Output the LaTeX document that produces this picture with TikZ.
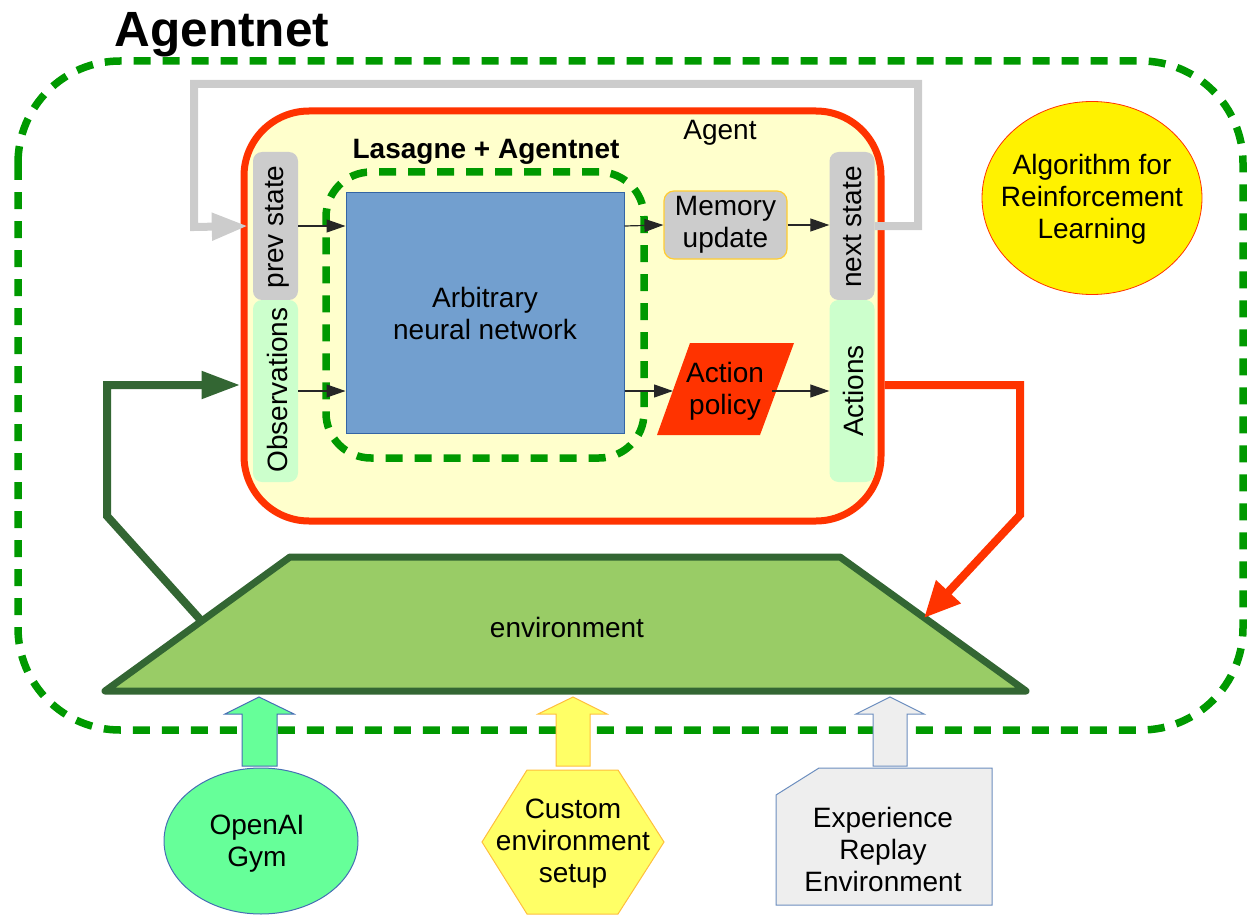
\documentclass[tikz,border=0pt]{standalone}
\usepackage{fontspec}
\setmainfont{Liberation Sans}
\usetikzlibrary{arrows.meta,shapes.geometric}
\definecolor{dgreen}{RGB}{0,153,0}
\definecolor{redo}{RGB}{255,51,0}
\definecolor{agentF}{RGB}{255,255,204}
\definecolor{lgray}{RGB}{204,204,204}
\definecolor{lgreen}{RGB}{204,255,204}
\definecolor{blueF}{RGB}{114,159,207}
\definecolor{blueB}{RGB}{52,101,164}
\definecolor{memB}{RGB}{255,204,51}
\definecolor{envF}{RGB}{153,204,102}
\definecolor{envB}{RGB}{51,102,51}
\definecolor{gymF}{RGB}{102,255,153}
\definecolor{gymB}{RGB}{70,110,180}
\definecolor{hexF}{RGB}{255,255,102}
\definecolor{hexB}{RGB}{255,190,60}
\definecolor{expF}{RGB}{238,238,238}
\definecolor{expB}{RGB}{108,142,191}
\begin{document}
\begin{tikzpicture}[x=1pt,y=-1pt,
  every node/.style={font=\fontsize{28}{32}\selectfont, inner sep=0pt, align=center},
  gdash/.style={draw=dgreen, line width=7.5pt, dash pattern=on 17pt off 12pt},
  strip/.style={minimum width=45pt, rounded corners=9pt},
  arr/.style={-{Triangle[length=19pt,width=13pt]}, line width=1.2pt, draw=black!85},
  boldlbl/.style={font=\bfseries\fontsize{28}{32}\selectfont},
  blockarrow/.style={line width=1pt}]
\useasboundingbox (0,0) rectangle (1248,915);

% outer Agentnet frame
\draw[gdash, rounded corners=102pt] (18,61) rectangle (1243,730);
\node[font=\bfseries\fontsize{49.5}{56}\selectfont, anchor=base] (title) at (222,47) {Agentnet};

% agent box
\node[draw=redo, fill=agentF, line width=7pt, rounded corners=65pt,
      minimum width=637pt, minimum height=410pt] (agent) at (562.5,316) {};
\node[anchor=base] (agentlbl) at (720,140) {Agent};

% lasagne frame
\node[gdash, rounded corners=45pt, minimum width=318pt, minimum height=286pt] (lasagne) at (485,315) {};
\node[boldlbl, anchor=base] (laslbl) at (486,159) {Lasagne + Agentnet};

% strips
\node[strip, fill=lgray, minimum height=148pt] (prev) at (275.5,226) {};
\node[strip, fill=lgreen, minimum height=182pt] (obs) at (275.5,391) {};
\node[strip, fill=lgray, minimum height=148pt] (next) at (852,226) {};
\node[strip, fill=lgreen, minimum height=182pt] (acts) at (852,391) {};
\node[rotate=90] (prevtxt) at (277,227) {prev state};
\node[rotate=90] (obstxt) at (277,390) {Observations};
\node[rotate=90] (nexttxt) at (853,227) {next state};
\node[rotate=90] (actstxt) at (853,391) {Actions};

% neural network
\node[draw=blueB, fill=blueF, line width=1pt, minimum width=278pt, minimum height=241pt] (nn) at (485,312.5) {};
\node (nntxt) at (485,313) {Arbitrary\\neural network};

% memory update
\node[draw=memB, fill=lgray, line width=1.2pt, rounded corners=10pt,
      minimum width=123pt, minimum height=68pt] (mem) at (725.5,225) {Memory\\update};

% action policy
\path[fill=redo] (657,435) -- (690,343) -- (794,343) -- (760,435) -- cycle;
\node (policy) at (725,391) {Action\\policy};
\coordinate (polin) at (673,391);
\coordinate (polout) at (772,391);

% thin arrows
\draw[arr] (prev.east) -- (nn.west |- prev.east);
\draw[arr] (obs.east) -- (nn.west |- obs.east);
\draw[arr] (nn.east |- prev.east) -- (mem.west);
\draw[arr] (mem.east) -- (next.west |- mem.east);
\draw[arr] (nn.east |- obs.east) -- (polin);
\draw[arr] (polout) -- (acts.west |- polout);

% environment
\path[draw=envB, fill=envF, line width=7pt, line join=round]
  (105,691) -- (290,557) -- (840,557) -- (1026,691) -- cycle;
\node (env) at (567,627) {environment};
\coordinate (envL) at (201.5,621);
\coordinate (envR) at (924,618);
\coordinate (obsin) at (107,385);
\coordinate (actout) at (1020,385);

% gray state loop
\draw[line width=8pt, draw=lgray, -{Triangle[length=36pt,width=26pt]}]
  (next.east) -- (918,226) -- (918,84) -- (194,84) -- (194,227) -- ([xshift=-5pt]prev.west);

% observation loop
\draw[line width=8pt, draw=envB, -{Triangle[length=39pt,width=26pt]}]
  (envL) -- (107,516) -- (obsin) -- (agent.west |- obsin);

% action loop
\draw[line width=8pt, draw=redo, -{Triangle[length=36pt,width=32pt]}]
  (agent.east |- actout) -- (actout) -- (1020,515) -- (envR);

% algorithm
\node[ellipse, draw=redo, fill=yellow, line width=0.8pt, minimum width=220pt, minimum height=193pt] (alg) at (1092,198) {};
\node (algtxt) at (1092,199) {Algorithm for\\Reinforcement\\Learning};

% block arrows
\path[blockarrow, fill=gymF, draw=gymB] (242,766) -- (242,714) -- (225,714) -- (259,697) -- (294,714) -- (277,714) -- (277,766) -- cycle;
\path[blockarrow, fill=hexF, draw=hexB] (556,766) -- (556,714) -- (538,714) -- (573,697) -- (607,714) -- (590,714) -- (590,766) -- cycle;
\path[blockarrow, fill=expF, draw=expB] (873,766) -- (873,714) -- (856,714) -- (890,697) -- (924,714) -- (907,714) -- (907,766) -- cycle;

% sources
\node[ellipse, draw=gymB, fill=gymF, line width=1pt, minimum width=194pt, minimum height=146pt] (gym) at (261,841) {};
\node (gymtxt) at (257,844) {OpenAI\\Gym};

\path[fill=hexF, draw=hexB, line width=1pt] (482,842) -- (527,770) -- (618,770) -- (664,842) -- (618,914) -- (527,914) -- cycle;
\node (custom) at (573,844) {Custom\\environment\\setup};

\path[fill=expF, draw=expB, line width=1pt] (776,795) -- (819,768) -- (992,768) -- (992,905) -- (776,905) -- cycle;
\node (exp) at (883,849) {Experience\\Replay\\Environment};
\end{tikzpicture}
\end{document}
